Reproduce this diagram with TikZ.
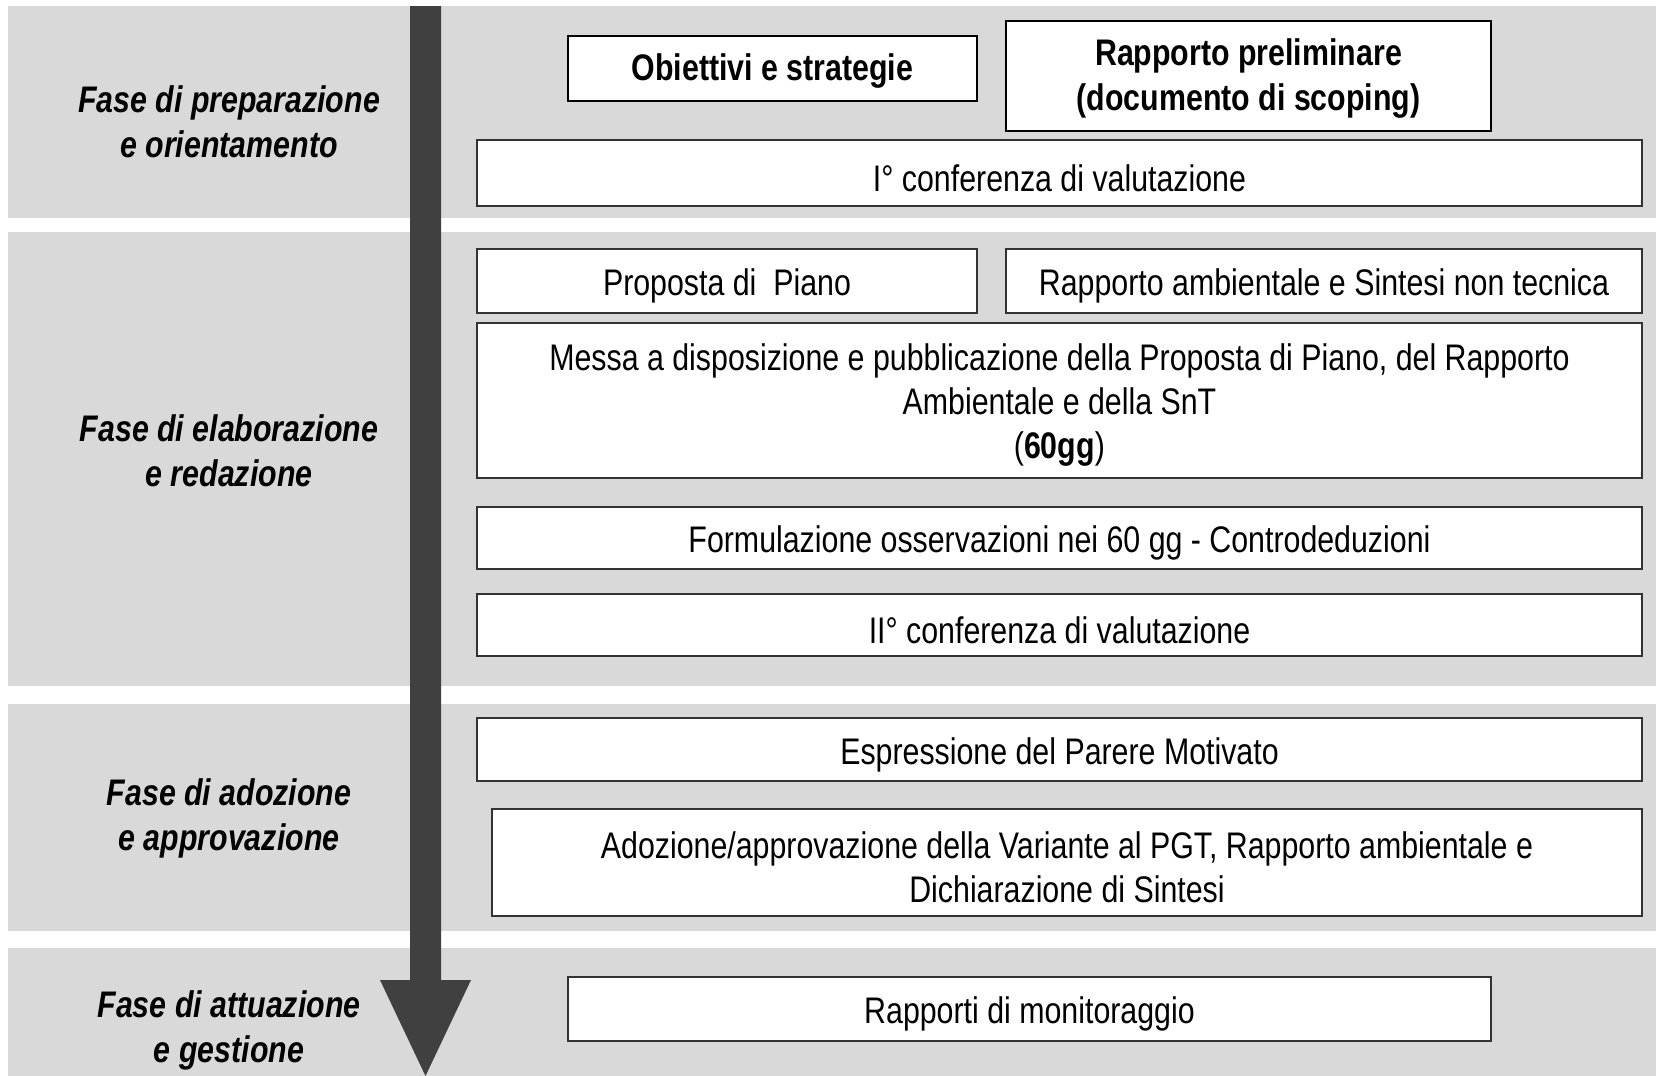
\documentclass[tikz,border=0pt]{standalone}
\usepackage{fontspec}
\setmainfont[FakeStretch=0.82]{Liberation Sans}
\usetikzlibrary{fit}

\definecolor{bandgray}{HTML}{D9D9D9}
\definecolor{arrowgray}{HTML}{404040}
\definecolor{framegray}{HTML}{333333}

\tikzset{
  band/.style={fill=bandgray},
  phase/.style={font=\fontsize{18.5pt}{22.5pt}\selectfont\bfseries\itshape, align=center},
  stepbox/.style={draw=framegray, line width=0.6pt, fill=white, inner sep=0pt},
  keybox/.style={stepbox, draw=black, line width=1.2pt},
  steptext/.style={align=center, yshift=-2.5pt, font=\fontsize{18.5pt}{22pt}\selectfont},
  keytext/.style={steptext, yshift=1pt, font=\fontsize{18.5pt}{22.5pt}\selectfont\bfseries}
}

\begin{document}
\begin{tikzpicture}[x=0.5pt,y=-0.5pt]
        \useasboundingbox (0,0) rectangle (1656,1076);
        \fill[white] (0,0) rectangle (1656,1076);
        % fasce delle fasi
        \fill[band] (8,6) rectangle (1656,218);
        \fill[band] (8,232) rectangle (1656,686);
        \fill[band] (8,704) rectangle (1656,931);
        \fill[band] (8,948) rectangle (1656,1076);
        % freccia del tempo
        \fill[arrowgray] (410,6) -- (441,6) -- (441,980) -- (471,980) -- (425.5,1076)
            -- (380,980) -- (410,980) -- cycle;
        % etichette
        \node[phase] (prep) at (229,122) {Fase di preparazione\\e orientamento};
        \node[phase] (elab) at (229,451) {Fase di elaborazione\\e redazione};
        \node[phase] (adoz) at (229,818) {Fase di adozione\\e approvazione};
        \node[phase] (attu) at (229,1030) {Fase di attuazione\\e gestione};
        % passi
        \node[keybox, fit={(568,36) (977,101)}] (obiettivi) {};
        \node[keytext] at (obiettivi) {Obiettivi e strategie};
        \node[keybox, fit={(1006,21) (1491,131)}] (scoping) {};
        \node[keytext] at (scoping) {Rapporto preliminare\\(documento di scoping)};
        \node[stepbox, fit={(477,140) (1642,206)}] (conf1) {};
        \node[steptext] at (conf1) {I° conferenza di valutazione};
        \node[stepbox, fit={(477,249) (977,313)}] (piano) {};
        \node[steptext] at (piano) {Proposta di\ \ Piano};
        \node[stepbox, fit={(1006,249) (1642,313)}] (rapporto) {};
        \node[steptext] at (rapporto) {Rapporto ambientale e Sintesi non tecnica};
        \node[stepbox, fit={(477,323) (1642,478)}] (messa) {};
        \node[steptext] at (messa)
            {Messa a disposizione e pubblicazione della Proposta di Piano, del Rapporto\\
             Ambientale e della SnT\\(\textbf{60gg})};
        \node[stepbox, fit={(477,507) (1642,569)}] (osserv) {};
        \node[steptext] at (osserv) {Formulazione osservazioni nei 60 gg - Controdeduzioni};
        \node[stepbox, fit={(477,594) (1642,656)}] (conf2) {};
        \node[steptext] at (conf2) {II° conferenza di valutazione};
        \node[stepbox, fit={(477,718) (1642,781)}] (parere) {};
        \node[steptext] at (parere) {Espressione del Parere Motivato};
        \node[stepbox, fit={(492,809) (1642,916)}] (adozione) {};
        \node[steptext] at (adozione)
            {Adozione/approvazione della Variante al PGT, Rapporto ambientale e\\Dichiarazione di Sintesi};
        \node[stepbox, fit={(568,977) (1491,1041)}] (monit) {};
        \node[steptext] at (monit) {Rapporti di monitoraggio};
\end{tikzpicture}
\end{document}
